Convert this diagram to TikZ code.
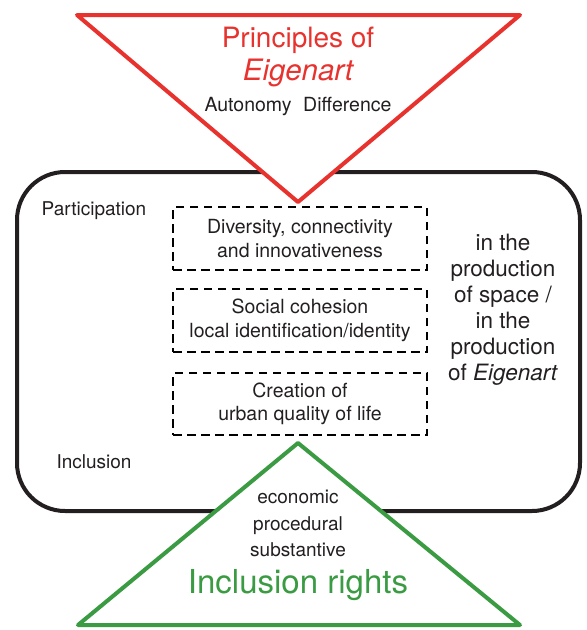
\documentclass[tikz,border=0pt]{standalone}
\usepackage{fontspec}
\setmainfont{TeX Gyre Heros}
\definecolor{tred}{RGB}{232,50,46}
\definecolor{tgreen}{RGB}{58,155,66}
\definecolor{ink}{RGB}{35,31,32}
\begin{document}
\begin{tikzpicture}[x=1pt,y=-1pt,
  txt/.style={inner sep=0pt,align=center,text=ink},
  dbox/.style={draw=black,line width=2.6pt,dash pattern=on 8.5pt off 5.5pt,
    minimum width=254pt,inner sep=0pt,align=center,text=ink,
    font=\fontsize{19.5}{23.5}\selectfont},
  tri/.style={line width=4pt,line join=round,fill=white}]
\useasboundingbox (0,0) rectangle (587,630);
% frame
\draw[line width=4pt,color=ink,rounded corners=48pt] (17,172) rectangle (580,511);
% triangles
\draw[tri,draw=tred] (77,15) coordinate (rA) -- (520,15) coordinate (rB) -- (298,202) coordinate (rC) -- cycle;
\draw[tri,draw=tgreen] (298,443) coordinate (gA) -- (520,625) coordinate (gB) -- (78,625) coordinate (gC) -- cycle;
% red texts
\node[txt,text=tred,font=\fontsize{28}{32}\selectfont] (pr) at (298,40) {Principles of};
\node[txt,text=tred,font=\fontsize{29.5}{32}\itshape] (eg) at (298,73) {Eigenart};
\node[txt,font=\fontsize{19.5}{22}\selectfont] (ad) at (298,106) {Autonomy\hspace{0.6em}Difference};
% side labels
\node[txt,font=\fontsize{19}{22}\selectfont] (part) at (94,211) {Participation};
\node[txt,font=\fontsize{19}{22}\selectfont] (incl) at (94,462) {Inclusion};
% boxes
\node[dbox,minimum height=63pt] (b1) at (300,238.5) {Diversity, connectivity\\and innovativeness};
\node[dbox,minimum height=63pt] (b2) at (300,320.5) {Social cohesion\\local identification/identity};
\node[dbox,minimum height=62pt] (b3) at (300,404) {Creation of\\urban quality of life};
% right text
\node[txt,font=\fontsize{22.5}{26}\selectfont] (rt) at (503,310) {in the\\production\\of space /\\in the\\production\\of \textit{Eigenart}};
% green texts
\node[txt,font=\fontsize{19}{26.5}\selectfont] (gt) at (298,523.5) {economic\\procedural\\substantive};
\node[txt,text=tgreen,font=\fontsize{33}{36}\selectfont] (ir) at (298,585) {Inclusion rights};
\end{tikzpicture}
\end{document}
